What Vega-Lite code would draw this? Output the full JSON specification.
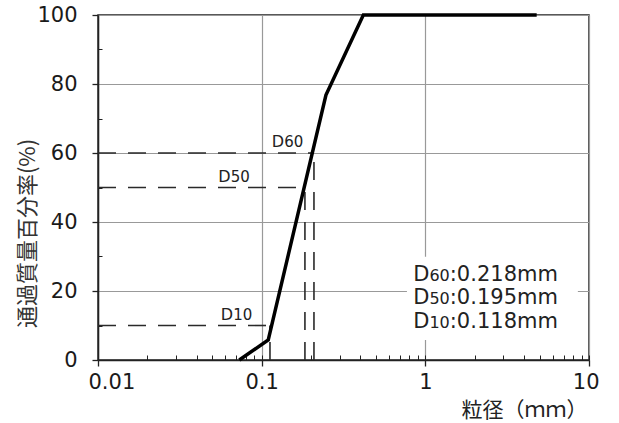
{
  "$schema": "https://vega.github.io/schema/vega-lite/v6.json",
  "width": 491,
  "height": 345,
  "autosize": {"type": "none"},
  "padding": {"left": 98, "top": 15, "right": 30, "bottom": 63},
  "background": "white",
  "config": {
    "view": {"stroke": "#222", "strokeWidth": 1.5},
    "axis": {
      "domainColor": "#222",
      "domainWidth": 1.5,
      "tickColor": "#222",
      "tickWidth": 1.3,
      "gridColor": "#999",
      "gridWidth": 1.2,
      "labelFont": "DejaVu Sans",
      "labelFontSize": 21,
      "labelColor": "#1a1a1a"
    }
  },
  "datasets": {
    "curve": [
      {"d": 0.073, "p": 0},
      {"d": 0.1097, "p": 5.8},
      {"d": 0.247, "p": 76.8},
      {"d": 0.418, "p": 100},
      {"d": 4.79, "p": 100}
    ],
    "dashes": [
      {"d": 0.01, "d2": 0.2087, "p": 60, "p2": 60},
      {"d": 0.2087, "d2": 0.2087, "p": 0, "p2": 60},
      {"d": 0.01, "d2": 0.1838, "p": 50, "p2": 50},
      {"d": 0.1838, "d2": 0.1838, "p": 0, "p2": 50},
      {"d": 0.01, "d2": 0.1124, "p": 10, "p2": 10},
      {"d": 0.1124, "d2": 0.1124, "p": 0, "p2": 10}
    ],
    "box": [
      {"d": 0.772, "d2": 8.55, "p": 5.8, "p2": 29.9}
    ],
    "curveLabels": [
      {"d": 0.1151, "p": 61.8, "main": "D", "sub": "60"},
      {"d": 0.0543, "p": 51.7, "main": "D", "sub": "50"},
      {"d": 0.0562, "p": 11.6, "main": "D", "sub": "10"}
    ],
    "boxLabels": [
      {"d": 0.843, "p": 22.9, "main": "D", "sub": "60", "rest": ":0.218mm"},
      {"d": 0.843, "p": 16.1, "main": "D", "sub": "50", "rest": ":0.195mm"},
      {"d": 0.843, "p": 9.3, "main": "D", "sub": "10", "rest": ":0.118mm"}
    ]
  },
  "layer": [
    {
      "data": {"name": "box"},
      "mark": {"type": "rect", "fill": "white", "stroke": null},
      "encoding": {
        "x": {
          "field": "d", "type": "quantitative",
          "scale": {"type": "log", "domain": [0.01, 10], "nice": false},
          "axis": {
            "orient": "bottom",
            "values": [0.01, 0.02, 0.03, 0.04, 0.05, 0.06, 0.07, 0.08, 0.09, 0.1, 0.2, 0.3, 0.4, 0.5, 0.6, 0.7, 0.8, 0.9, 1, 2, 3, 4, 5, 6, 7, 8, 9, 10],
            "tickSize": -5,
            "tickWidth": 1,
            "labels": false,
            "domain": false,
            "grid": false,
            "title": null
          }
        },
        "x2": {"field": "d2"},
        "y": {
          "field": "p", "type": "quantitative",
          "scale": {"domain": [0, 100], "nice": false},
          "axis": {
            "orient": "left",
            "values": [10, 30, 50, 70, 90],
            "tickSize": -4,
            "tickWidth": 1,
            "labels": false,
            "domain": false,
            "grid": false,
            "title": null
          }
        },
        "y2": {"field": "p2"}
      }
    },
    {
      "data": {"name": "dashes"},
      "mark": {"type": "rule", "color": "#2a2a2a", "strokeWidth": 1.6, "strokeDash": [18, 12]},
      "encoding": {
        "x": {"field": "d", "type": "quantitative", "axis": null},
        "x2": {"field": "d2"},
        "y": {"field": "p", "type": "quantitative", "axis": null},
        "y2": {"field": "p2"}
      }
    },
    {
      "data": {"name": "curve"},
      "mark": {"type": "line", "color": "#000", "strokeWidth": 3.5, "strokeJoin": "miter"},
      "encoding": {
        "x": {
          "field": "d", "type": "quantitative",
          "axis": {
            "orient": "bottom",
            "values": [0.01, 0.1, 1, 10],
            "format": "~g",
            "grid": true,
            "tickSize": 6,
            "labelPadding": 5,
            "labelFlush": true,
            "labelFlushOffset": 10,
            "title": "粒径（ｍｍ）",
            "titleFont": "Noto Sans CJK JP",
            "titleFontSize": 21,
            "titleFontWeight": "normal",
            "titleColor": "#222",
            "titleAlign": "right",
            "titleBaseline": "alphabetic",
            "titleX": 489,
            "titleY": 56
          }
        },
        "y": {
          "field": "p", "type": "quantitative",
          "axis": {
            "orient": "left",
            "values": [0, 20, 40, 60, 80, 100],
            "grid": true,
            "tickSize": 6,
            "labelPadding": 15,
            "title": "通過質量百分率(%)",
            "titleFont": "Noto Sans CJK JP",
            "titleFontSize": 22,
            "titleFontWeight": "normal",
            "titleColor": "#333",
            "titleAngle": -90,
            "titleAlign": "center",
            "titleBaseline": "middle",
            "titleX": -71,
            "titleY": 218
          }
        }
      }
    },
    {
      "data": {"name": "curveLabels"},
      "mark": {"type": "text", "font": "DejaVu Sans", "fontSize": 16, "align": "left", "baseline": "alphabetic", "color": "#222"},
      "encoding": {
        "x": {"field": "d", "type": "quantitative", "axis": null},
        "y": {"field": "p", "type": "quantitative", "axis": null},
        "text": {"field": "main"}
      }
    },
    {
      "data": {"name": "curveLabels"},
      "mark": {"type": "text", "font": "DejaVu Sans", "fontSize": 15, "align": "left", "baseline": "alphabetic", "dx": 12.5, "color": "#222"},
      "encoding": {
        "x": {"field": "d", "type": "quantitative", "axis": null},
        "y": {"field": "p", "type": "quantitative", "axis": null},
        "text": {"field": "sub"}
      }
    },
    {
      "data": {"name": "boxLabels"},
      "mark": {"type": "text", "font": "DejaVu Sans", "fontSize": 21, "align": "left", "baseline": "alphabetic", "color": "#222"},
      "encoding": {
        "x": {"field": "d", "type": "quantitative", "axis": null},
        "y": {"field": "p", "type": "quantitative", "axis": null},
        "text": {"field": "main"}
      }
    },
    {
      "data": {"name": "boxLabels"},
      "mark": {"type": "text", "font": "DejaVu Sans", "fontSize": 16, "align": "left", "baseline": "alphabetic", "dx": 16.2, "color": "#222"},
      "encoding": {
        "x": {"field": "d", "type": "quantitative", "axis": null},
        "y": {"field": "p", "type": "quantitative", "axis": null},
        "text": {"field": "sub"}
      }
    },
    {
      "data": {"name": "boxLabels"},
      "mark": {"type": "text", "font": "DejaVu Sans", "fontSize": 21, "align": "left", "baseline": "alphabetic", "dx": 36.6, "color": "#222"},
      "encoding": {
        "x": {"field": "d", "type": "quantitative", "axis": null},
        "y": {"field": "p", "type": "quantitative", "axis": null},
        "text": {"field": "rest"}
      }
    }
  ],
  "resolve": {"axis": {"x": "independent", "y": "independent"}}
}
